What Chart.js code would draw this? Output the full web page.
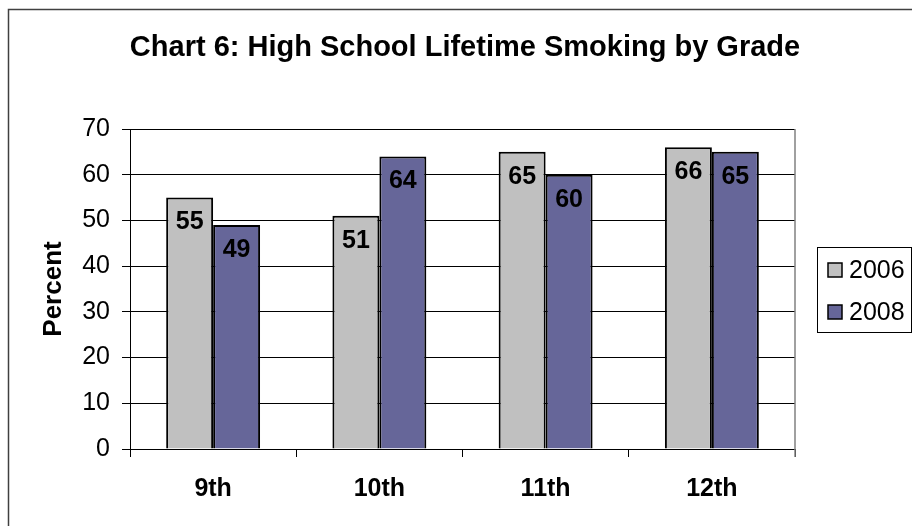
<!DOCTYPE html>
<html>
<head>
<meta charset="utf-8">
<script src="https://cdn.jsdelivr.net/npm/chart.js@4/dist/chart.umd.min.js"></script>
<style>
  html, body { margin: 0; padding: 0; background: #fff; }
  #wrap { width: 912px; height: 526px; position: relative; }
</style>
</head>
<body>
<div id="wrap"><canvas id="smokingChart" width="912" height="526"></canvas></div>
<script>
const grades = ['9th', '10th', '11th', '12th'];
const smoked2006 = [55, 51, 65, 66];
const smoked2008 = [49, 64, 60, 65];
const yTicks = [0, 10, 20, 30, 40, 50, 60, 70];
const chartTitle = 'Chart 6: High School Lifetime Smoking by Grade';

const FONT = '"Liberation Sans", Arial, sans-serif';

// frame, title, legend box and bar value labels
const decorations = {
  id: 'decorations',
  beforeDraw(chart) {
    const ctx = chart.ctx;
    ctx.save();
    ctx.fillStyle = '#fff';
    ctx.fillRect(0, 0, chart.width, chart.height);
    ctx.strokeStyle = '#404040';
    ctx.lineWidth = 1.5;
    ctx.strokeRect(8.5, 9.5, 1200, 1200);
    ctx.restore();
  },
  afterDatasetsDraw(chart) {
    const ctx = chart.ctx;
    ctx.save();
    ctx.font = 'bold 25px ' + FONT;
    ctx.fillStyle = '#000';
    ctx.textAlign = 'center';
    ctx.textBaseline = 'middle';
    chart.data.datasets.forEach((ds, i) => {
      chart.getDatasetMeta(i).data.forEach((bar, j) => {
        ctx.fillText(String(ds.data[j]), bar.x, bar.y + 25);
      });
    });
    ctx.restore();
  },
  afterDraw(chart) {
    const ctx = chart.ctx;
    const area = chart.chartArea;
    ctx.save();
    // grey plot-area edge on the right
    ctx.strokeStyle = '#808080';
    ctx.lineWidth = 1.5;
    ctx.beginPath();
    ctx.moveTo(area.right, area.top);
    ctx.lineTo(area.right, area.bottom + 8);
    ctx.stroke();

    // title
    ctx.fillStyle = '#000';
    ctx.font = 'bold 29px ' + FONT;
    ctx.textAlign = 'center';
    ctx.textBaseline = 'alphabetic';
    ctx.fillText(chartTitle, 465, 56);

    // legend
    const lx = area.right + 22, ly = 247, lw = 94, lh = 85;
    ctx.strokeStyle = '#000';
    ctx.lineWidth = 1;
    ctx.strokeRect(lx + 0.5, ly + 0.5, lw, lh);
    ctx.font = '25px ' + FONT;
    ctx.textAlign = 'left';
    ctx.textBaseline = 'middle';
    chart.data.datasets.forEach((ds, i) => {
      const cy = ly + 23 + i * 42;
      ctx.fillStyle = ds.backgroundColor;
      ctx.fillRect(lx + 11, cy - 7, 14, 14);
      ctx.strokeStyle = '#000';
      ctx.lineWidth = 1.5;
      ctx.strokeRect(lx + 11, cy - 7, 14, 14);
      ctx.fillStyle = '#000';
      ctx.fillText(ds.label, lx + 32, cy + 1);
    });
    ctx.restore();
  }
};

new Chart(document.getElementById('smokingChart'), {
  type: 'bar',
  data: {
    labels: grades,
    datasets: [
      { label: '2006', data: smoked2006, backgroundColor: '#C0C0C0', borderColor: '#000', borderWidth: 2 },
      { label: '2008', data: smoked2008, backgroundColor: '#666699', borderColor: '#000', borderWidth: 2 }
    ]
  },
  options: {
    responsive: false,
    animation: false,
    devicePixelRatio: 1,
    layout: { padding: { top: 129, right: 117, left: 0, bottom: 0 } },
    datasets: { bar: { categoryPercentage: 0.565, barPercentage: 1 } },
    plugins: {
      legend: { display: false },
      title: { display: false },
      tooltip: { enabled: false }
    },
    scales: {
      x: {
        afterFit(scale) { scale.height = 77; },
        grid: { display: true, drawOnChartArea: false, color: '#000', tickLength: 8, offset: true },
        border: { color: '#000', width: 1 },
        ticks: {
          color: '#000',
          padding: 17,
          font: { family: FONT, size: 25, weight: 'bold' }
        }
      },
      y: {
        min: yTicks[0],
        max: yTicks[yTicks.length - 1],
        afterFit(scale) { scale.width = 130; },
        afterBuildTicks(scale) { scale.ticks = yTicks.map(v => ({ value: v })); },
        grid: { color: '#000', tickLength: 8 },
        border: { color: '#000', width: 1 },
        ticks: {
          color: '#000',
          padding: 12,
          font: { family: FONT, size: 25 }
        },
        title: {
          display: true,
          text: 'Percent',
          color: '#000',
          padding: { top: 38 },
          font: { family: FONT, size: 26, weight: 'bold' }
        }
      }
    }
  },
  plugins: [decorations]
});
</script>
</body>
</html>
